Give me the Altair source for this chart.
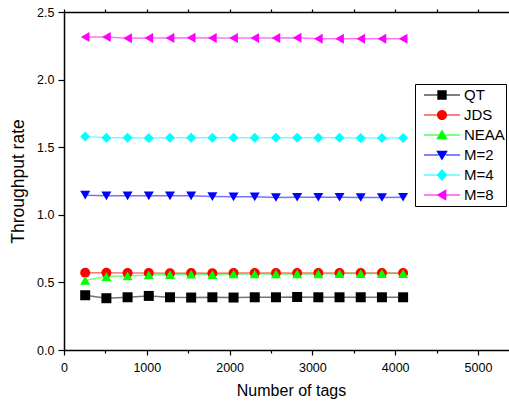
import altair as alt
import pandas as pd

# Number of tags on the x axis
tags = [256 * k for k in range(1, 17)]

series_names = ["QT", "JDS", "NEAA", "M=2", "M=4", "M=8"]
series_colors = ["#000000", "#FF0000", "#00FF00", "#0000FF", "#00FFFF", "#FF00FF"]
series_shapes = ["square", "circle", "triangle-up", "triangle-down", "diamond", "triangle-left"]

qt = [0.405, 0.383, 0.390, 0.400, 0.390, 0.388, 0.390, 0.388, 0.390, 0.390, 0.392, 0.390, 0.390, 0.390, 0.390, 0.390]
jds = [0.572, 0.572, 0.570, 0.570, 0.568, 0.570, 0.568, 0.570, 0.570, 0.570, 0.570, 0.570, 0.570, 0.570, 0.570, 0.570]
neaa = [0.515, 0.543, 0.548, 0.555, 0.558, 0.560, 0.558, 0.562, 0.562, 0.563, 0.563, 0.563, 0.565, 0.565, 0.565, 0.565]
m2 = [1.145, 1.140, 1.140, 1.140, 1.140, 1.140, 1.135, 1.133, 1.133, 1.128, 1.130, 1.130, 1.130, 1.128, 1.128, 1.130]
m4 = [1.580, 1.570, 1.570, 1.568, 1.570, 1.570, 1.570, 1.570, 1.570, 1.570, 1.570, 1.570, 1.570, 1.568, 1.568, 1.568]
m8 = [2.315, 2.315, 2.305, 2.308, 2.308, 2.310, 2.308, 2.308, 2.308, 2.308, 2.310, 2.303, 2.303, 2.303, 2.303, 2.303]

values = [qt, jds, neaa, m2, m4, m8]

rows = []
for name, vals in zip(series_names, values):
    for t, v in zip(tags, vals):
        rows.append({"tags": t, "rate": v, "series": name})
df = pd.DataFrame(rows)

# Legend glyphs: a line on both sides of a marker, drawn in the unit square
LINE = "M-1,-0.03H-0.2V0.03H-1ZM0.2,-0.03H1V0.03H0.2Z"
legend_paths = [
    LINE + "M-0.26,-0.26H0.26V0.26H-0.26Z",
    LINE + "M-0.28,0A0.28,0.28,0,1,1,0.28,0A0.28,0.28,0,1,1,-0.28,0Z",
    LINE + "M0,-0.3L0.32,0.24L-0.32,0.24Z",
    LINE + "M0,0.3L0.32,-0.24L-0.32,-0.24Z",
    LINE + "M0,-0.33L0.3,0L0,0.33L-0.3,0Z",
    LINE + "M-0.3,0L0.24,-0.32L0.24,0.32Z",
]

FONT = "Liberation Sans"
X_DOMAIN = [0, 5375]

x_bottom = alt.X(
    "tags:Q",
    scale=alt.Scale(domain=X_DOMAIN, nice=False, zero=False),
    axis=alt.Axis(
        orient="bottom",
        title="Number of tags",
        values=list(range(0, 5001, 500)),
        labelExpr="datum.value % 1000 === 0 ? datum.label : ''",
        format="d",
        labelFlush=False,
        tickSize={"condition": {"test": "datum.value % 1000 === 0", "value": 5}, "value": 3},
        labelPadding=6,
        titlePadding=9,
        titleX=227,
        titleFontSize=16,
        grid=False,
    ),
)
x_top = alt.X(
    "tags:Q",
    scale=alt.Scale(domain=X_DOMAIN, nice=False, zero=False),
    axis=alt.Axis(
        orient="top",
        title=None,
        values=list(range(0, 5001, 500)),
        labels=False,
        tickSize=3,
        grid=False,
    ),
)
y_enc = alt.Y(
    "rate:Q",
    scale=alt.Scale(domain=[0, 2.5], nice=False),
    axis=alt.Axis(
        title="Throughput rate",
        values=[0, 0.5, 1.0, 1.5, 2.0, 2.5],
        format=".1f",
        labelFlush=False,
        tickSize=6,
        labelPadding=4,
        titlePadding=9,
        titleFontSize=17.5,
        grid=False,
    ),
)

color_scale = alt.Scale(domain=series_names, range=series_colors)

lines = alt.Chart(df).mark_line(strokeWidth=1.5, opacity=0.55).encode(
    x=x_top,
    y=y_enc,
    color=alt.Color("series:N", scale=color_scale, legend=None),
    detail="series:N",
)

points = alt.Chart(df).mark_point(filled=True, size=100, opacity=1).encode(
    x=x_bottom,
    y=y_enc,
    color=alt.Color("series:N", scale=color_scale, legend=None),
    shape=alt.Shape("series:N", scale=alt.Scale(domain=series_names, range=series_shapes), legend=None),
)

# Carries the legend only: its rows are filtered away, the scale domain keeps every entry
legend_layer = (
    alt.Chart(df)
    .transform_filter("datum.rate < 0")
    .mark_point(filled=True, size=30, opacity=1)
    .encode(
        x=alt.X("tags:Q", axis=None),
        y=y_enc,
        color=alt.Color(
            "series:N",
            scale=alt.Scale(domain=series_names, range=series_colors),
            legend=alt.Legend(
                title=None,
                orient="none",
                legendX=351,
                legendY=72,
                strokeColor="#000000",
                fillColor="#FFFFFF",
                padding=1,
                symbolOffset=8,
                symbolSize=1296,
                symbolStrokeWidth=0,
                symbolOpacity=1,
                labelOffset=4,
                clipHeight=20,
                rowPadding=0,
                labelFont=FONT,
                labelFontSize=15,
                labelColor="#000000",
            ),
        ),
        shape=alt.Shape(
            "series:N",
            scale=alt.Scale(domain=series_names, range=legend_paths),
            legend=alt.Legend(title=None, orient="none", legendX=351, legendY=72),
        ),
    )
)

chart = (
    alt.layer(lines, points, legend_layer)
    .resolve_scale(color="independent", shape="independent")
    .resolve_axis(x="independent")
    .properties(
        width=445,
        height=338,
        autosize=alt.AutoSizeParams(type="none"),
        padding={"left": 64, "top": 12, "right": 0, "bottom": 51},
        background="#FFFFFF",
    )
    .configure_view(stroke=None)
    .configure_axis(
        domainColor="#000000",
        domainWidth=1.5,
        tickColor="#000000",
        tickWidth=1.2,
        labelFont=FONT,
        labelFontSize=12.5,
        labelColor="#000000",
        titleFont=FONT,
        titleFontWeight="normal",
        titleColor="#000000",
    )
)

chart.save("out.html", embed_options={"renderer": "svg", "actions": False})
